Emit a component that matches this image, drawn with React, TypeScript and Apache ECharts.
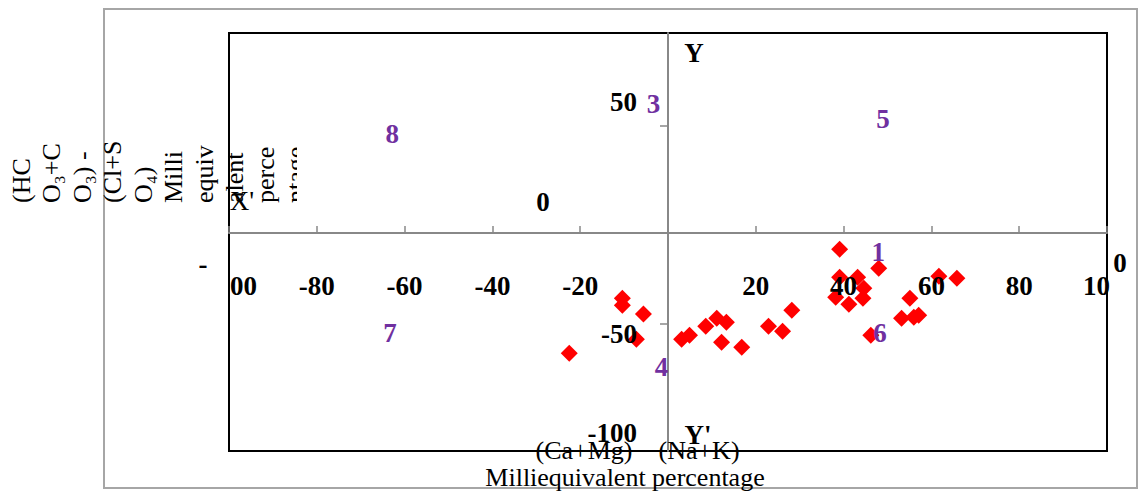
import React, { useEffect, useRef } from 'react';
import * as echarts from 'echarts';

// Red diamonds: (Na+K)-(Ca+Mg) vs (HCO3+CO3)-(Cl+SO4), milliequivalent percentage
const pointX = [-22.5, -10.4, -10.4, -5.6, -7.2, 3.1, 4.9, 8.6, 11.1, 13.3, 12.2, 16.8, 22.9, 26.1, 28.2, 39.1, 48.0, 39.1, 43.2, 44.6, 38.2, 41.2, 44.4, 46.2, 61.7, 65.8, 55.1, 53.2, 56.0, 57.1];
const pointY = [-64.6, -36.9, -40.4, -44.9, -57.6, -57.6, -55.6, -51.0, -47.0, -49.0, -59.1, -61.6, -51.0, -53.5, -42.9, -12.1, -21.7, -26.3, -26.3, -31.8, -36.4, -39.9, -36.9, -55.6, -25.8, -26.8, -36.9, -47.0, -46.5, -45.5];

// Field (zone) numbers
const zoneLabels = ['8', '3', '5', '1', '6', '7', '4'];
const zoneX = [-62.8, -3.3, 49.0, 47.9, 48.3, -63.3, -1.5];
const zoneY = [46.0, 61.4, 53.5, -13.3, -54.5, -54.5, -71.7];

const xTickLabels = [-80, -60, -40, -20, 20, 40, 60, 80];
const yTickValues = [50, -50];
const yLabelValues = [50, -50, -100];
const yTitleLines = ['(HC', 'O₃+C', 'O₃) -', '(Cl+S', 'O₄)', 'Milli', 'equiv', 'alent', 'perce', 'ntage'];

export default function App() {
  const ref = useRef<HTMLDivElement>(null);
  useEffect(() => {
    const chart = echarts.init(ref.current as HTMLDivElement, null, { renderer: 'svg' });
    const boldFont = 'bold 27px "Liberation Serif", "Times New Roman", serif';
    const regFont = '26px "Liberation Serif", "Times New Roman", serif';
    chart.setOption({
      animation: false,
      grid: {
        left: 229, right: 32, top: 33, bottom: 41,
        outerBoundsMode: 'none', containLabel: false,
        show: true, borderColor: '#000', borderWidth: 2, backgroundColor: 'transparent',
      },
      xAxis: {
        type: 'value', min: -100, max: 100, interval: 20,
        axisLine: { onZero: true, onZeroAxisIndex: 1, lineStyle: { color: '#888', width: 2 } },
        axisTick: { inside: true, length: 7, lineStyle: { color: '#888', width: 1.5 } },
        axisLabel: { show: false },
        splitLine: { show: false },
        z: 5,
      },
      yAxis: [
        {
          type: 'value', min: -114, max: 97,
          axisLine: { onZero: true, lineStyle: { color: '#888', width: 2 } },
          axisTick: { customValues: yTickValues, length: 8, lineStyle: { color: '#888', width: 1.5 } },
          axisLabel: { show: false },
          splitLine: { show: false },
          z: 5,
        },
        { type: 'value', min: -218, max: 200, show: false },
      ],
      series: [
        {
          type: 'scatter', yAxisIndex: 0,
          symbol: 'diamond', symbolSize: 17,
          itemStyle: { color: '#FF0000', opacity: 1 },
          data: pointX.map((x, i) => [x, pointY[i]]),
          z: 2,
        },
      ],
    });

    const px = (v: number) => chart.convertToPixel({ xAxisIndex: 0 }, v) as number;
    const py = (v: number) => chart.convertToPixel({ yAxisIndex: 0 }, v) as number;
    const axisY = chart.convertToPixel({ yAxisIndex: 1 }, 0) as number;
    const x0 = px(0);
    const txt = (x: number, y: number, text: string, font: string, fill = '#000', align = 'center') => ({
      type: 'text', x, y, z: 100,
      style: { text, font, fill, align, verticalAlign: 'middle' },
    });

    const graphics: any[] = [
      { type: 'rect', shape: { x: 104, y: 9, width: 1033, height: 479 }, style: { fill: 'none', stroke: '#A6A6A6', lineWidth: 2 }, silent: true, z: 0 },
      {
        type: 'text', x: 6, y: 203, rotation: Math.PI / 2, z: 100,
        style: { text: yTitleLines.join('\n'), font: regFont, fill: '#000', align: 'left', verticalAlign: 'top', lineHeight: 30.5 },
      },
      { type: 'rect', shape: { x: 297, y: 120, width: 14, height: 95 }, style: { fill: '#fff' }, z: 101 },
      { ...txt(242, 201, "X'", '27px "Liberation Serif", serif'), z: 102 },
      txt(x0 + 26, 53, 'Y', boldFont),
      txt(x0 + 30, 435, "Y'", boldFont),
      txt(543, 202, '0', boldFont),
      txt(1120, 263, '0', boldFont),
      txt(203, 264, '-', boldFont),
      txt(px(-100) + 1, axisY + 53, '00', boldFont, '#000', 'left'),
      txt(px(100) - 24, axisY + 53, '10', boldFont, '#000', 'left'),
      txt(584, 450, '(Ca+Mg)', regFont),
      txt(699, 450, '(Na+K)', regFont),
      txt(625, 477, 'Milliequivalent percentage', regFont),
    ];
    xTickLabels.forEach((v) => graphics.push(txt(px(v), axisY + 53, String(v), boldFont)));
    yLabelValues.forEach((v) => graphics.push(txt(x0 - 31, py(v) + (v === 50 ? -24 : 10), String(v), boldFont, '#000', 'right')));
    zoneLabels.forEach((n, i) => graphics.push(txt(px(zoneX[i]), py(zoneY[i]), n, boldFont, '#7030A0')));

    chart.setOption({ graphic: graphics });
    return () => chart.dispose();
  }, []);
  return <div ref={ref} style={{ position: 'fixed', left: 0, top: 0, width: 1139, height: 492, background: '#fff' }} />;
}
